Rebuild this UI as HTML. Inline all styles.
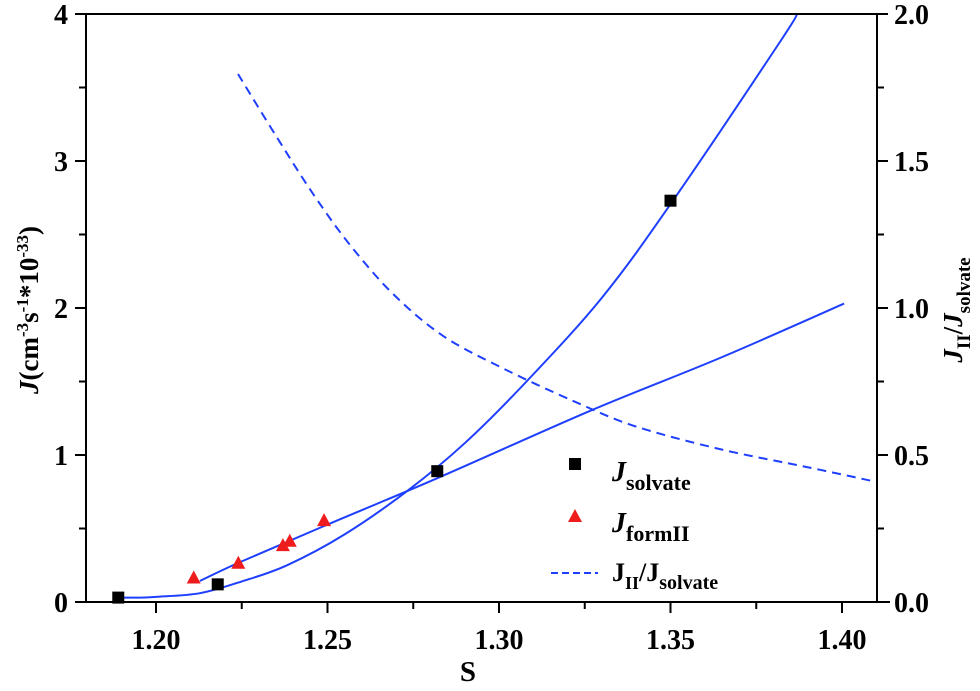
<!DOCTYPE html>
<html><head><meta charset="utf-8"><style>
body{margin:0;background:#fff;}
svg{display:block;font-family:"Liberation Serif",serif;font-weight:bold;}
</style></head><body>
<svg id="chart" width="980" height="691" viewBox="0 0 980 691" xmlns="http://www.w3.org/2000/svg">
<g id="series"></g>
<g id="axes"></g>
<g id="legend">
  <rect x="569" y="458" width="12" height="12" fill="#000"/>
  <text x="612" y="481" font-size="28" font-style="italic">J<tspan font-size="22" font-style="normal" dy="9">solvate</tspan></text>
  <polygon points="575,509 582,522 568,522" fill="#ee1c1c"/>
  <text x="612" y="532" font-size="28" font-style="italic">J<tspan font-size="22" font-style="normal" dy="9">formII</tspan></text>
  <line x1="551" y1="573" x2="598" y2="573" stroke="#1f3fff" stroke-width="2" stroke-dasharray="7,4"/>
  <text x="612" y="581" font-size="26">J<tspan font-size="18" dy="8">II</tspan><tspan dy="-8">/J</tspan><tspan font-size="20" dy="8">solvate</tspan></text>
</g>
<text x="468" y="681" font-size="29" text-anchor="middle">S</text>
<text transform="translate(38,310) rotate(-90)" font-size="27" text-anchor="middle"><tspan font-style="italic">J</tspan>(cm<tspan font-size="17" dy="-10">-3</tspan><tspan dy="10">s</tspan><tspan font-size="17" dy="-10">-1</tspan><tspan dy="10">*10</tspan><tspan font-size="17" dy="-10">-33</tspan><tspan dy="10">)</tspan></text>
<text transform="translate(962,310) rotate(-90)" font-size="27" text-anchor="middle"><tspan font-style="italic">J</tspan><tspan font-size="19" dy="8">II</tspan><tspan dy="-8">/</tspan><tspan font-style="italic">J</tspan><tspan font-size="19" dy="8">solvate</tspan></text>
</svg>
<script>
// data arrays
const xTicks = [1.20, 1.25, 1.30, 1.35, 1.40];
const xTickLabels = ["1.20", "1.25", "1.30", "1.35", "1.40"];
const yTicks = [0, 1, 2, 3, 4];
const yTickLabels = ["0", "1", "2", "3", "4"];
const y2Ticks = [0, 0.5, 1.0, 1.5, 2.0];
const y2TickLabels = ["0.0", "0.5", "1.0", "1.5", "2.0"];
const solvateS = [1.189, 1.218, 1.282, 1.350];
const solvateJ = [0.03, 0.12, 0.89, 2.73];
const formIIS = [1.211, 1.224, 1.237, 1.239, 1.249];
const formIIJ = [0.16, 0.26, 0.38, 0.41, 0.55];
const fitSolvS = [1.189, 1.195, 1.200, 1.2128, 1.225, 1.2382, 1.255, 1.2735, 1.290, 1.3076, 1.330, 1.3507, 1.3822, 1.3869];
const fitSolvJ = [0.03, 0.03, 0.035, 0.06, 0.14, 0.25, 0.46, 0.76, 1.08, 1.49, 2.07, 2.73, 3.82, 4.0];
const fitIIS = [1.2128, 1.2239, 1.249, 1.2822, 1.3265, 1.3644, 1.4006];
const fitIIJ = [0.143, 0.265, 0.517, 0.844, 1.30, 1.66, 2.03];
const ratioS = [1.2239, 1.235, 1.2458, 1.2566, 1.2691, 1.2837, 1.3015, 1.3216, 1.3394, 1.3644, 1.3898, 1.4087];
const ratioR = [1.796, 1.585, 1.388, 1.214, 1.048, 0.905, 0.793, 0.684, 0.599, 0.520, 0.459, 0.412];

const X0 = 86, X1 = 877, Y0 = 602, Y1 = 14;
const sx = s => 156 + (s - 1.20) * 3430;
const sy = j => Y0 - (j / 4) * (Y0 - Y1);
const sy2 = r => Y0 - (r / 2) * (Y0 - Y1);
const NS = "http://www.w3.org/2000/svg";
function mk(tag, attrs, parent) {
  const e = document.createElementNS(NS, tag);
  for (const k in attrs) e.setAttribute(k, attrs[k]);
  parent.appendChild(e);
  return e;
}
const axes = document.getElementById('axes');
const series = document.getElementById('series');

let el = mk('line', {x1: 75, y1: Y0, x2: 890, y2: Y0, stroke: '#000', 'stroke-width': 2}, axes);


el = mk('line', {x1: 75, y1: Y1, x2: X1, y2: Y1, stroke: '#000', 'stroke-width': 2}, axes);


el = mk('line', {x1: X0, y1: Y1, x2: X0, y2: Y0, stroke: '#000', 'stroke-width': 2}, axes);


el = mk('line', {x1: X1, y1: Y1, x2: X1, y2: Y0, stroke: '#000', 'stroke-width': 2}, axes);



xTicks.forEach((t, i) => {
  const x = sx(t);
  let tk = mk('line', {x1: x, y1: Y0, x2: x, y2: Y0 + 11, stroke: '#000', 'stroke-width': 2}, axes);
  
  
  let lb = mk('text', {x: x, y: Y0 + 47, 'font-size': 28, 'text-anchor': 'middle'}, axes);
  lb.textContent = xTickLabels[i];
  
  
  if (i < xTicks.length - 1) {
    const xm = sx(t + 0.025);
    let mt = mk('line', {x1: xm, y1: Y0, x2: xm, y2: Y0 + 7, stroke: '#000', 'stroke-width': 2}, axes);
    
    
  }
});
yTicks.forEach((t, i) => {
  const y = sy(t);
  let tk = mk('line', {x1: X0 - 11, y1: y, x2: X0, y2: y, stroke: '#000', 'stroke-width': 2}, axes);
  
  
  let lb = mk('text', {x: X0 - 18, y: y + 10, 'font-size': 28, 'text-anchor': 'end'}, axes);
  lb.textContent = yTickLabels[i];
  
  
  if (i < yTicks.length - 1) {
    const ym = sy(t + 0.5);
    let mt = mk('line', {x1: X0 - 7, y1: ym, x2: X0, y2: ym, stroke: '#000', 'stroke-width': 2}, axes);
    
    
  }
});
y2Ticks.forEach((t, i) => {
  const y = sy2(t);
  let tk = mk('line', {x1: X1, y1: y, x2: X1 + 11, y2: y, stroke: '#000', 'stroke-width': 2}, axes);
  
  
  let lb = mk('text', {x: X1 + 17, y: y + 10, 'font-size': 28, 'text-anchor': 'start'}, axes);
  lb.textContent = y2TickLabels[i];
  
  
  if (i < y2Ticks.length - 1) {
    const ym = sy2(t + 0.25);
    let mt = mk('line', {x1: X1, y1: ym, x2: X1 + 7, y2: ym, stroke: '#000', 'stroke-width': 2}, axes);
    
    
  }
});

// smooth path through points (Catmull-Rom)
function smooth(xs, ys, fy) {
  const P = xs.map((s, i) => [sx(s), fy(ys[i])]);
  let d = 'M' + P[0][0].toFixed(1) + ',' + P[0][1].toFixed(1);
  for (let i = 0; i < P.length - 1; i++) {
    const p0 = P[i - 1] || P[i], p1 = P[i], p2 = P[i + 1], p3 = P[i + 2] || P[i + 1];
    const c1 = [p1[0] + (p2[0] - p0[0]) / 6, p1[1] + (p2[1] - p0[1]) / 6];
    const c2 = [p2[0] - (p3[0] - p1[0]) / 6, p2[1] - (p3[1] - p1[1]) / 6];
    d += ` C${c1[0].toFixed(1)},${c1[1].toFixed(1)} ${c2[0].toFixed(1)},${c2[1].toFixed(1)} ${p2[0].toFixed(1)},${p2[1].toFixed(1)}`;
  }
  return d;
}
let p = mk('path', {d: smooth(fitSolvS, fitSolvJ, sy), fill: 'none', stroke: '#1f3fff', 'stroke-width': 2}, series);


p = mk('path', {d: smooth(fitIIS, fitIIJ, sy), fill: 'none', stroke: '#1f3fff', 'stroke-width': 2}, series);


p = mk('path', {d: smooth(ratioS, ratioR, sy2), fill: 'none', stroke: '#1f3fff', 'stroke-width': 2, 'stroke-dasharray': '9,6'}, series);



solvateS.forEach((s, i) => {
  const x = sx(s), y = sy(solvateJ[i]);
  let r = mk('rect', {x: x - 6, y: y - 6, width: 12, height: 12, fill: '#000'}, series);
  
  
});
formIIS.forEach((s, i) => {
  const x = sx(s), y = sy(formIIJ[i]);
  let t = mk('polygon', {points: `${x},${y - 8} ${x + 7},${y + 5} ${x - 7},${y + 5}`, fill: '#ee1c1c'}, series);
  
  
});
</script>
</body></html>
